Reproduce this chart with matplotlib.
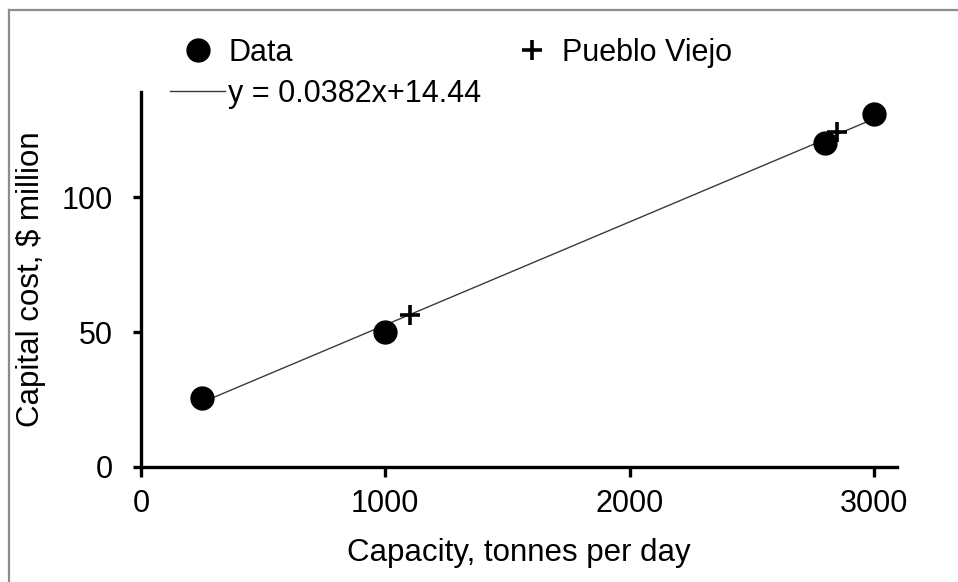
import matplotlib
matplotlib.use("Agg")
import matplotlib.pyplot as plt
from matplotlib.lines import Line2D
import numpy as np

# Values
data_capacity = [250, 1000, 2800, 3000]
data_cost = [25.7, 50, 120, 131]
pv_capacity = [1100, 2850]
pv_cost = [56.5, 124]
fit_slope = 0.0382
fit_intercept = 14.44
x_ticks = [0, 1000, 2000, 3000]
y_ticks = [0, 50, 100]

plt.rcParams["font.family"] = ["Liberation Sans", "DejaVu Sans"]
FS = 22

fig = plt.figure(figsize=(9.58, 5.82), dpi=100)
ax = fig.add_axes([141 / 958, 115 / 582, 756 / 958, 375 / 582])

fit_x = np.array([min(data_capacity), max(data_capacity)])
fit_y = fit_slope * fit_x + fit_intercept
ax.plot(fit_x, fit_y, color="#3a3a3a", lw=1.0, zorder=2,
        label="y = 0.0382x+14.44")
ax.plot(data_capacity, data_cost, "o", color="black", ms=16.5, zorder=3,
        label="Data")
ax.plot(pv_capacity, pv_cost, "+", color="black", ms=15, mew=2.6, zorder=4,
        label="Pueblo Viejo")

ax.set_xlim(0, 3095)
ax.set_ylim(0, 139)
ax.set_xticks(x_ticks)
ax.set_yticks(y_ticks)

for side in ["top", "right"]:
    ax.spines[side].set_visible(False)
for side in ["left", "bottom"]:
    ax.spines[side].set_linewidth(2.4)
ax.tick_params(axis="both", direction="out", width=2.4, labelsize=FS,
               colors="black")
ax.tick_params(axis="x", length=7, pad=9)
ax.tick_params(axis="y", length=6, pad=14)

ax.set_xlabel("Capacity, tonnes per day", fontsize=FS + 0.5)
ax.set_ylabel("Capital cost, $ million", fontsize=FS + 0.5)
ax.xaxis.set_label_coords(0.5, -0.19)
ax.yaxis.set_label_coords(-0.125, 0.5)

handles, labels = ax.get_legend_handles_labels()
order = [1, 0, 2]
fig.legend([handles[i] for i in order], [labels[i] for i in order],
           loc="upper left", bbox_to_anchor=(170 / 958, 1 - 38 / 582),
           ncol=2, frameon=False, fontsize=FS, borderpad=0,
           borderaxespad=0, handlelength=1.8, handletextpad=0.1,
           columnspacing=0.75, labelspacing=0.35)

# grey frame on the left and top, as in the source image
fig.add_artist(Line2D([9 / 958, 9 / 958], [0, 1 - 10 / 582],
                      transform=fig.transFigure, color="#8c8c8c", lw=1.6))
fig.add_artist(Line2D([9 / 958, 1], [1 - 10 / 582, 1 - 10 / 582],
                      transform=fig.transFigure, color="#8c8c8c", lw=1.6))

fig.savefig("out.png", dpi=100)
